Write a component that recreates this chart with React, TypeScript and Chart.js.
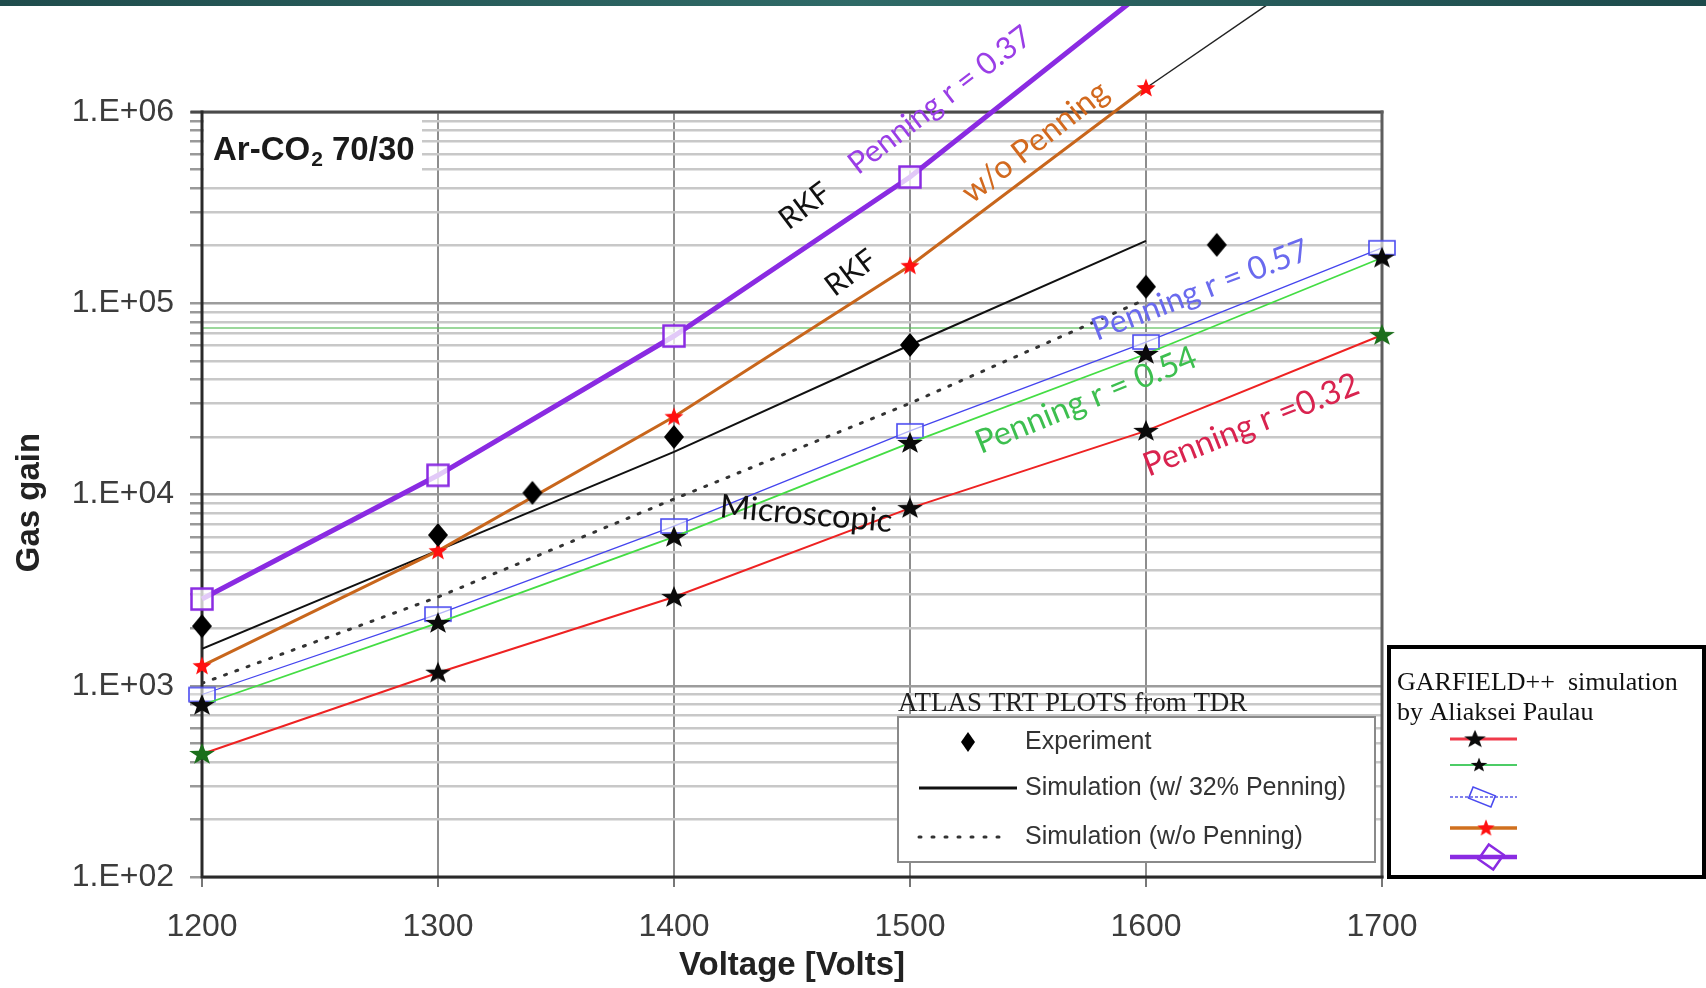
import React, { useEffect, useRef } from 'react';
import { Chart, registerables } from 'chart.js';

Chart.register(...registerables);

// ---------------- data ----------------
const voltages = [1200, 1300, 1400, 1500, 1600, 1700];
const penning037Gain = [2840, 12600, 67400, 457000, 4350000];
const withoutPenningGain = [1270, 5070, 25500, 157000, 1335000];
const rkfTailVoltages = [1600, 1700];
const rkfTailGain = [1335000, 9400000];
const penning057Gain = [900, 2370, 6840, 21500, 62700, 195000];
const penning054Gain = [793, 2130, 6000, 18600, 54300, 173000];
const penning032Gain = [440, 1170, 2910, 8490, 21500, 68200];
const atlasSim32Gain = [1560, 5100, 16700, 60500, 212000];
const atlasSimNoPenningGain = [1030, 2910, 9470, 30000, 105000];
const experimentVoltages = [1200, 1300, 1340, 1400, 1500, 1600, 1630];
const experimentGain = [2050, 6140, 10200, 20000, 60500, 122000, 202000];

const xTickValues = [1200, 1300, 1400, 1500, 1600, 1700];
const xTickLabels = ['1200', '1300', '1400', '1500', '1600', '1700'];
const yMajorValues = [100, 1000, 10000, 100000, 1000000];
const yTickLabels = ['1.E+02', '1.E+03', '1.E+04', '1.E+05', '1.E+06'];
const yMinorMultipliers = [1, 2, 3, 4, 5, 6, 7, 8, 9];
const referenceLineGain = 74300;
const yAxisTitle = 'Gas gain';
const xAxisTitle = 'Voltage [Volts]';

// curve annotations (anchor in data space)
const noteTexts = ['Penning r = 0.37', 'w/o Penning', 'RKF', 'RKF', 'Penning r = 0.57', 'Penning r = 0.54', 'Penning r =0.32', 'Microscopic'];
const noteVoltages = [1512.7, 1553, 1455.5, 1475, 1623, 1574.6, 1644.5, 1456];
const noteGains = [1155000, 697000, 322000, 144000, 117000, 31200, 23100, 7900];
const noteStyles = [
  { color: '#9a3ee6', angle: -37.5, width: 222 },
  { color: '#d2691e', angle: -38, width: 176 },
  { color: '#111111', angle: -37, width: 56 },
  { color: '#111111', angle: -37, width: 56 },
  { color: '#6a6aee', angle: -21, width: 230 },
  { color: '#3dbf4f', angle: -22, width: 236 },
  { color: '#d9234f', angle: -21.5, width: 229 },
  { color: '#111111', angle: 5, width: 173 },
];

const atlasLegendTitle = 'ATLAS TRT PLOTS from TDR';
const atlasLegendLabels = ['Experiment', 'Simulation (w/ 32% Penning)', 'Simulation (w/o Penning)'];
const garfieldLegendLines = ['GARFIELD++  simulation', 'by Aliaksei Paulau'];

// ---------------- marker glyphs ----------------
function makeCanvas(w: number, h: number, draw: (c: CanvasRenderingContext2D) => void) {
  const cv = document.createElement('canvas');
  cv.width = w;
  cv.height = h;
  draw(cv.getContext('2d') as CanvasRenderingContext2D);
  return cv;
}
function starPath(c: CanvasRenderingContext2D, cx: number, cy: number, ro: number, ri: number, sy: number) {
  c.beginPath();
  for (let i = 0; i < 10; i++) {
    const r = i % 2 === 0 ? ro : ri;
    const a = -Math.PI / 2 + (i * Math.PI) / 5;
    const px = cx + r * Math.cos(a);
    const py = cy + r * Math.sin(a) * sy;
    if (i === 0) c.moveTo(px, py);
    else c.lineTo(px, py);
  }
  c.closePath();
}
function buildMarkers() {
  return {
    blackStar: makeCanvas(28, 24, (c) => {
      starPath(c, 14, 12.5, 13.5, 5.5, 0.85);
      c.fillStyle = '#0a0a0a';
      c.fill();
    }),
    greenStar: makeCanvas(28, 24, (c) => {
      starPath(c, 14, 12.5, 13.5, 5.5, 0.85);
      c.fillStyle = '#1b6e1b';
      c.fill();
    }),
    redStar: makeCanvas(22, 22, (c) => {
      starPath(c, 11, 11.5, 10, 4.2, 1);
      c.fillStyle = '#ff1010';
      c.fill();
    }),
    diamond: makeCanvas(22, 28, (c) => {
      c.beginPath();
      c.moveTo(11, 2);
      c.lineTo(21, 14);
      c.lineTo(11, 26);
      c.lineTo(1, 14);
      c.closePath();
      c.fillStyle = '#000';
      c.fill();
    }),
    purpleSquare: makeCanvas(26, 26, (c) => {
      c.fillStyle = 'rgba(255,255,255,0.75)';
      c.fillRect(2, 2, 22, 22);
      c.strokeStyle = '#8a2be2';
      c.lineWidth = 2.5;
      c.strokeRect(2.5, 2.5, 21, 21);
    }),
    blueRect: makeCanvas(30, 18, (c) => {
      c.fillStyle = 'rgba(255,255,255,0.6)';
      c.fillRect(2, 2, 26, 14);
      c.strokeStyle = '#4b4bf0';
      c.lineWidth = 1.6;
      c.strokeRect(2, 2, 26, 14);
    }),
  };
}

const pts = (xs: number[], ys: number[]) => ys.map((y, i) => ({ x: xs[i], y }));
const isMajor = (v: number) => {
  const l = Math.log10(v);
  return Math.abs(l - Math.round(l)) < 1e-9;
};

export default function App() {
  const ref = useRef<HTMLCanvasElement>(null);

  useEffect(() => {
    document.body.style.margin = '0';
    document.body.style.overflow = 'hidden';
    const canvas = ref.current as HTMLCanvasElement;
    const m = buildMarkers();

    const decor = {
      id: 'decor',
      beforeDatasetsDraw(chart: any) {
        const ctx = chart.ctx as CanvasRenderingContext2D;
        const a = chart.chartArea;
        const ys = chart.scales.y;
        ctx.save();
        // white box behind gas label
        ctx.fillStyle = '#ffffff';
        ctx.fillRect(a.left + 2, a.top + 2, 218, 64);
        // faint green reference line
        const gy = ys.getPixelForValue(referenceLineGain);
        ctx.strokeStyle = 'rgba(90,190,90,0.8)';
        ctx.lineWidth = 1.5;
        ctx.beginPath();
        ctx.moveTo(a.left, gy);
        ctx.lineTo(a.right, gy);
        ctx.stroke();
        // frame
        ctx.lineCap = 'square';
        ctx.strokeStyle = '#4a4a4a';
        ctx.lineWidth = 3;
        ctx.beginPath();
        ctx.moveTo(a.left - 10, a.top);
        ctx.lineTo(a.right, a.top);
        ctx.stroke();
        ctx.strokeStyle = '#5e5e5e';
        ctx.beginPath();
        ctx.moveTo(a.right, a.top);
        ctx.lineTo(a.right, a.bottom);
        ctx.stroke();
        ctx.strokeStyle = '#2a2a2a';
        ctx.beginPath();
        ctx.moveTo(a.left, a.top);
        ctx.lineTo(a.left, a.bottom);
        ctx.lineTo(a.right, a.bottom);
        ctx.stroke();
        ctx.restore();
      },
      afterDatasetsDraw(chart: any) {
        const ctx = chart.ctx as CanvasRenderingContext2D;
        const a = chart.chartArea;
        const xs = chart.scales.x;
        const ys = chart.scales.y;
        ctx.save();
        noteTexts.forEach((t, i) => {
          const s = noteStyles[i];
          const x = xs.getPixelForValue(noteVoltages[i]);
          const y = ys.getPixelForValue(noteGains[i]);
          ctx.save();
          ctx.translate(x, y);
          ctx.rotate((s.angle * Math.PI) / 180);
          ctx.font = '32px Lato';
          const w = ctx.measureText(t).width;
          const size = (32 * s.width) / w;
          ctx.font = `${size.toFixed(2)}px Lato`;
          ctx.fillStyle = s.color;
          ctx.textAlign = 'center';
          ctx.textBaseline = 'middle';
          ctx.fillText(t, 0, 0);
          ctx.restore();
        });
        // gas mixture label
        ctx.fillStyle = '#1a1a1a';
        ctx.textBaseline = 'alphabetic';
        ctx.textAlign = 'left';
        let tx = a.left + 11;
        const ty = a.top + 48;
        ctx.font = 'bold 33px "Liberation Sans"';
        ctx.fillText('Ar-CO', tx, ty);
        tx += ctx.measureText('Ar-CO').width;
        ctx.font = 'bold 21px "Liberation Sans"';
        ctx.fillText('2', tx + 1, ty + 6);
        tx += ctx.measureText('2').width + 1;
        ctx.font = 'bold 33px "Liberation Sans"';
        ctx.fillText(' 70/30', tx, ty);
        // y axis title (slightly below the axis centre, as in the reference)
        ctx.save();
        ctx.translate(30, (a.top + a.bottom) / 2 + 8);
        ctx.rotate(-Math.PI / 2);
        ctx.font = 'bold 33px "Liberation Sans"';
        ctx.fillStyle = '#222';
        ctx.textAlign = 'center';
        ctx.textBaseline = 'middle';
        ctx.fillText(yAxisTitle, 0, 0);
        ctx.restore();
        ctx.restore();
      },
      afterDraw(chart: any) {
        const ctx = chart.ctx as CanvasRenderingContext2D;
        ctx.save();
        // ---- ATLAS legend ----
        ctx.fillStyle = '#ffffff';
        ctx.fillRect(897, 716, 479, 147);
        ctx.strokeStyle = '#8a8a8a';
        ctx.lineWidth = 2;
        ctx.strokeRect(898, 717, 477, 145);
        ctx.fillStyle = '#1e1e1e';
        ctx.font = '27px "Liberation Serif"';
        ctx.textAlign = 'left';
        ctx.textBaseline = 'alphabetic';
        ctx.fillText(atlasLegendTitle, 898, 711);
        // diamond
        ctx.fillStyle = '#000';
        ctx.beginPath();
        ctx.moveTo(968, 732);
        ctx.lineTo(975, 742);
        ctx.lineTo(968, 752);
        ctx.lineTo(961, 742);
        ctx.closePath();
        ctx.fill();
        // solid
        ctx.strokeStyle = '#111';
        ctx.lineWidth = 3;
        ctx.beginPath();
        ctx.moveTo(919, 788);
        ctx.lineTo(1017, 788);
        ctx.stroke();
        // dotted
        ctx.strokeStyle = '#333';
        ctx.setLineDash([2, 11]);
        ctx.lineCap = 'round';
        ctx.beginPath();
        ctx.moveTo(919, 837);
        ctx.lineTo(1010, 837);
        ctx.stroke();
        ctx.setLineDash([]);
        ctx.lineCap = 'butt';
        ctx.fillStyle = '#333333';
        ctx.font = '25px "Liberation Sans"';
        ctx.textBaseline = 'middle';
        [742, 788, 837].forEach((y, i) => ctx.fillText(atlasLegendLabels[i], 1025, y));

        // ---- GARFIELD legend ----
        ctx.fillStyle = '#ffffff';
        ctx.fillRect(1387, 645, 319, 235);
        ctx.strokeStyle = '#000';
        ctx.lineWidth = 4;
        ctx.strokeRect(1389, 647, 315, 230);
        ctx.fillStyle = '#111';
        ctx.font = '26px "Liberation Serif"';
        ctx.textBaseline = 'alphabetic';
        ctx.fillText(garfieldLegendLines[0], 1397, 690);
        ctx.fillText(garfieldLegendLines[1], 1397, 720);
        const seg = (y: number, color: string, w: number, dash: number[] = []) => {
          ctx.strokeStyle = color;
          ctx.lineWidth = w;
          ctx.setLineDash(dash);
          ctx.beginPath();
          ctx.moveTo(1450, y);
          ctx.lineTo(1517, y);
          ctx.stroke();
          ctx.setLineDash([]);
        };
        seg(739, '#f03a4a', 3);
        ctx.drawImage(m.blackStar, 1475 - 12, 739 - 10, 24, 20);
        seg(765, '#4ccc66', 2);
        ctx.drawImage(m.blackStar, 1479 - 9, 765 - 8, 18, 16);
        seg(797, '#5a5ae6', 1.6, [3, 2]);
        ctx.save();
        ctx.translate(1482, 797);
        ctx.rotate((22 * Math.PI) / 180);
        ctx.strokeStyle = '#4b4bf0';
        ctx.lineWidth = 1.6;
        ctx.strokeRect(-12, -6, 24, 12);
        ctx.restore();
        seg(828, '#d0701e', 3.5);
        ctx.drawImage(m.redStar, 1486 - 10, 828 - 10, 20, 20);
        seg(857, '#8a2be2', 4.5);
        ctx.save();
        ctx.translate(1491, 857);
        ctx.rotate((35 * Math.PI) / 180);
        ctx.strokeStyle = '#8a2be2';
        ctx.lineWidth = 2.5;
        ctx.strokeRect(-9, -9, 18, 18);
        ctx.restore();

        // ---- top band ----
        const g = ctx.createLinearGradient(0, 0, chart.width, 0);
        g.addColorStop(0, '#1f4c4c');
        g.addColorStop(0.5, '#2f6a67');
        g.addColorStop(1, '#1d4a4b');
        ctx.fillStyle = g;
        ctx.fillRect(0, 0, chart.width, 6);
        ctx.restore();
      },
    };

    const chart = new Chart(canvas, {
      type: 'line',
      data: {
        datasets: [
          {
            label: 'Experiment',
            data: pts(experimentVoltages, experimentGain),
            showLine: false,
            pointStyle: m.diamond as any,
            pointRadius: 10,
            borderColor: '#000',
            backgroundColor: '#000',
            order: 0,
            clip: false as any,
          },
          {
            label: 'Penning r = 0.37',
            data: pts(voltages, penning037Gain),
            borderColor: '#8a2be2',
            borderWidth: 5,
            pointStyle: m.purpleSquare as any,
            pointRadius: [11, 11, 11, 11, 0],
            order: 1,
            clip: false as any,
          },
          {
            label: 'w/o Penning',
            data: pts(voltages, withoutPenningGain),
            borderColor: '#c8661c',
            borderWidth: 3,
            pointStyle: m.redStar as any,
            pointRadius: [9, 9, 9, 9, 30],
            order: 2,
            clip: false as any,
          },
          {
            label: 'Penning r = 0.32',
            data: pts(voltages, penning032Gain),
            borderColor: '#ee2222',
            borderWidth: 2,
            pointStyle: [m.greenStar, m.blackStar, m.blackStar, m.blackStar, m.blackStar, m.greenStar] as any,
            pointRadius: 12,
            order: 3,
            clip: false as any,
          },
          {
            label: 'Penning r = 0.54',
            data: pts(voltages, penning054Gain),
            borderColor: '#44dd44',
            borderWidth: 1.8,
            pointStyle: m.blackStar as any,
            pointRadius: 12,
            order: 4,
            clip: false as any,
          },
          {
            label: 'Penning r = 0.57',
            data: pts(voltages, penning057Gain),
            borderColor: '#4444ee',
            borderWidth: 1.3,
            pointStyle: m.blueRect as any,
            pointRadius: 12,
            order: 5,
            clip: false as any,
          },
          {
            label: 'Simulation (w/ 32% Penning)',
            data: pts(voltages, atlasSim32Gain),
            borderColor: '#111',
            borderWidth: 2,
            pointRadius: 0,
            order: 6,
          },
          {
            label: 'Simulation (w/o Penning)',
            data: pts(voltages, atlasSimNoPenningGain),
            borderColor: '#333',
            borderWidth: 3,
            borderDash: [2, 10],
            borderCapStyle: 'round',
            pointRadius: 0,
            order: 7,
          },
          {
            label: 'RKF tail',
            data: pts(rkfTailVoltages, rkfTailGain),
            borderColor: '#222',
            borderWidth: 1.5,
            pointRadius: 0,
            order: 8,
            clip: false as any,
          },
        ],
      },
      options: {
        animation: false,
        responsive: false,
        events: [],
        layout: { padding: { left: 0, right: 324, top: 112, bottom: 0 } },
        plugins: { legend: { display: false }, tooltip: { enabled: false } },
        scales: {
          x: {
            type: 'linear',
            min: 1200,
            max: 1700,
            afterBuildTicks: (s: any) => {
              s.ticks = xTickValues.map((v) => ({ value: v }));
            },
            afterFit: (s: any) => {
              s.height = 111;
            },
            grid: { color: '#8d8d8d', lineWidth: 2, drawTicks: true, tickLength: 10, tickColor: '#777', tickWidth: 2 },
            border: { display: false },
            ticks: {
              font: { family: 'Liberation Sans', size: 32 },
              color: '#3c3c3c',
              padding: 21,
              maxRotation: 0,
              autoSkip: false,
              callback: (v: any) => {
                const i = xTickValues.indexOf(Number(v));
                return i >= 0 ? xTickLabels[i] : '';
              },
            },
            title: {
              display: true,
              text: xAxisTitle,
              font: { family: 'Liberation Sans', size: 33, weight: 'bold' },
              color: '#222',
              padding: { top: 0, bottom: 2 },
            },
          },
          y: {
            type: 'logarithmic',
            min: 100,
            max: 1000000,
            afterBuildTicks: (s: any) => {
              const t: { value: number }[] = [];
              for (let i = 0; i < yMajorValues.length - 1; i++) {
                yMinorMultipliers.forEach((k) => t.push({ value: k * yMajorValues[i] }));
              }
              t.push({ value: yMajorValues[yMajorValues.length - 1] });
              s.ticks = t;
            },
            afterFit: (s: any) => {
              s.width = 202;
            },
            grid: {
              color: (c: any) => (isMajor(c.tick.value) ? '#9c9c9c' : '#c8c8c8'),
              lineWidth: 2.5,
              drawTicks: true,
              tickLength: 12,
              tickColor: '#999',
            },
            border: { display: false },
            ticks: {
              autoSkip: false,
              font: { family: 'Liberation Sans', size: 32 },
              color: '#3c3c3c',
              padding: 16,
              callback: (v: any) => {
                const i = yMajorValues.findIndex((mv) => Math.abs(mv - Number(v)) < 1e-6 * mv);
                return i >= 0 ? yTickLabels[i] : '';
              },
            },
            title: { display: false },
          },
        },
      } as any,
      plugins: [decor],
    });

    return () => chart.destroy();
  }, []);

  return (
    <canvas
      ref={ref}
      width={1706}
      height={988}
      style={{ display: 'block', width: '1706px', height: '988px' }}
    />
  );
}
